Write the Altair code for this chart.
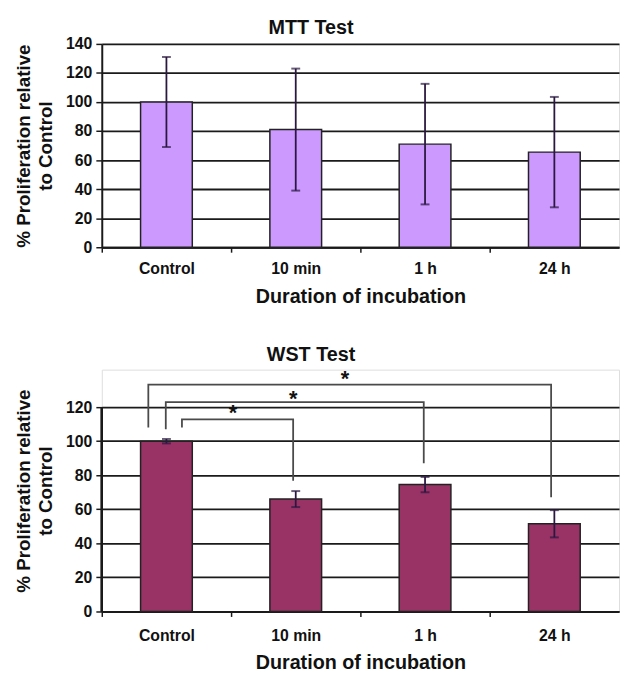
import altair as alt
import pandas as pd

categories = ["Control", "10 min", "1 h", "24 h"]

mtt_values = [100, 81, 71, 65.5]
mtt_errors = [31, 42, 41.5, 38]

wst_values = [100, 66, 74.5, 51.5]
wst_errors = [1.3, 4.7, 4.5, 8]

# significance brackets, x in category units (0 = left edge of first band)
br_left_x = [0.62, 0.495, 0.36]
br_right_x = [1.48, 2.49, 3.475]
br_left_y = [108, 107, 108]
br_top_y = [112.8, 122.9, 133.2]
br_right_y = [76.8, 87.1, 67.1]
star_x = [1.015, 1.48, 1.88]
star_y = [118.7, 127, 139]
star_text = ["*", "*", "*"]

mtt_ticks = [0, 20, 40, 60, 80, 100, 120, 140]
wst_ticks = [0, 20, 40, 60, 80, 100, 120]

FONT = "Liberation Sans"
W = 524
STEP = W / 4
ERR_COLOR = "#2a1840"
GRID = "#1a1a1a"


def panel(title, values, errors, color, ymax, ticks, height, brackets=False,
          label_pad=10, title_pad=12, title_offset=5):
    df = pd.DataFrame({"cat": categories, "val": values, "err": errors})
    df["lo"] = df["val"] - df["err"]
    df["hi"] = df["val"] + df["err"]

    yscale = alt.Scale(domain=[0, ymax], nice=False, zero=True)
    xaxis = alt.Axis(
        title="Duration of incubation", labelAngle=0, tickOffset=-STEP / 2,
        labelOffset=STEP / 2, tickSize=5, tickColor=GRID, tickWidth=1.5,
        domainColor=GRID, domainWidth=2, labelPadding=label_pad,
        titlePadding=title_pad, labelFontSize=16, labelFontWeight="bold",
        titleFontSize=20, titleFontWeight="bold", labelFont=FONT,
        titleFont=FONT, labelColor="#111", titleColor="#111")
    yaxis = alt.Axis(
        title=["% Proliferation relative", "to Control"],
        values=ticks, labelOverlap=False,
        grid=True, gridColor=GRID, gridWidth=1.8,
        domain=not brackets, domainColor=GRID, domainWidth=2,
        tickSize=6, tickColor=GRID, tickWidth=1.5, labelPadding=4,
        labelFontSize=16, labelFontWeight="bold", labelFont=FONT,
        titleFont=FONT, titleFontSize=19, titleFontWeight="bold",
        titleLineHeight=23, titlePadding=10, labelColor="#111",
        titleColor="#111")
    x = alt.X("cat:N", sort=categories,
              scale=alt.Scale(paddingInner=0.6, paddingOuter=0.3), axis=xaxis)

    def Y(field):
        return alt.Y(field, scale=yscale, axis=yaxis)

    base = alt.Chart(df)
    bars = base.mark_bar(color=color, stroke="#222", strokeWidth=1.5).encode(
        x=x, y=Y("val:Q"))
    rules = base.mark_rule(color=ERR_COLOR, strokeWidth=1.8).encode(
        x=x, y=Y("lo:Q"), y2="hi:Q")
    tlo = base.mark_tick(color=ERR_COLOR, size=9, thickness=2).encode(
        x=x, y=Y("lo:Q"))
    thi = base.mark_tick(color=ERR_COLOR, size=9, thickness=2).encode(
        x=x, y=Y("hi:Q"))
    inner = [bars, rules, tlo, thi]
    if brackets:
        axis_line = base.mark_rule(color=GRID, strokeWidth=2).encode(
            x=alt.value(0), y=alt.datum(0, scale=yscale, axis=yaxis),
            y2=alt.datum(120))
        inner.append(axis_line)
    inner_layer = alt.layer(*inner)

    if not brackets:
        chart = inner_layer
    else:
        rows = []
        for i in range(len(br_left_x)):
            pts = [(br_left_x[i], br_left_y[i]), (br_left_x[i], br_top_y[i]),
                   (br_right_x[i], br_top_y[i]), (br_right_x[i], br_right_y[i])]
            for j, (px, py) in enumerate(pts):
                rows.append({"b": i, "o": j, "x": px, "y": py})
        bdf = pd.DataFrame(rows)
        xq = alt.Scale(domain=[0, 4], nice=False, zero=False)
        br = alt.Chart(bdf).mark_line(color="#4a4a4a", strokeWidth=1.8).encode(
            x=alt.X("x:Q", scale=xq, axis=None),
            y=Y("y:Q"),
            detail="b:N", order="o:O")
        sdf = pd.DataFrame({"x": star_x, "y": star_y, "t": star_text})
        stars = alt.Chart(sdf).mark_text(
            font=FONT, fontSize=22, fontWeight="bold", color="#111",
            baseline="middle", dy=4).encode(
            x=alt.X("x:Q", scale=xq, axis=None),
            y=Y("y:Q"), text="t:N")
        chart = alt.layer(inner_layer, br, stars).resolve_scale(x="independent")

    return chart.properties(
        width=W, height=height,
        title=alt.TitleParams(title, fontSize=20, fontWeight="bold", font=FONT,
                              anchor="middle", frame="group", dx=-50,
                              color="#111", offset=title_offset))


top = panel("MTT Test", mtt_values, mtt_errors, "#cc99ff", 140, mtt_ticks, 206,
            label_pad=9, title_pad=10, title_offset=-2)
bottom = panel("WST Test", wst_values, wst_errors, "#993366", 142, wst_ticks, 245,
               brackets=True, label_pad=11, title_pad=10, title_offset=3)

chart = alt.vconcat(top, bottom, spacing=37).properties(
    padding={"left": 5, "top": 5, "right": 0, "bottom": 0}
).configure_view(stroke=None).configure(background="white")

chart.save("out.html", embed_options={"renderer": "svg", "actions": False})
